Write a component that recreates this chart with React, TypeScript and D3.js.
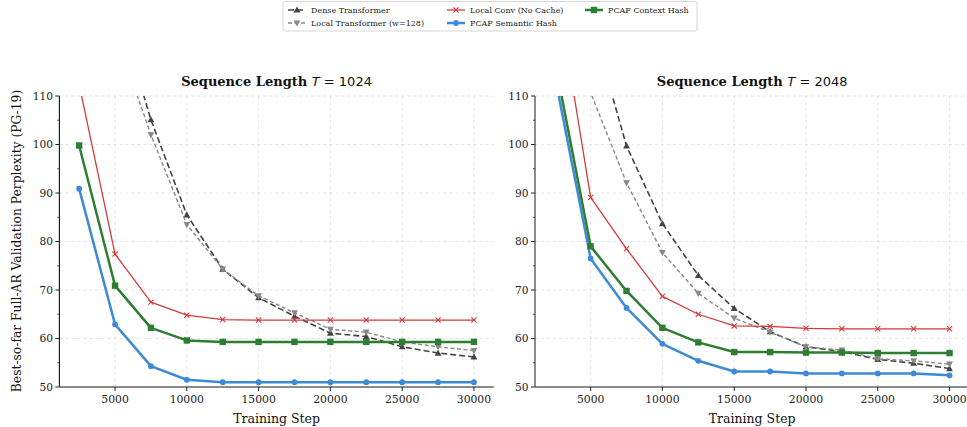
import React from "react";
import * as d3 from "d3";

const steps = [2500, 5000, 7500, 10000, 12500, 15000, 17500, 20000, 22500, 25000, 27500, 30000];

// T = 1024
const dense1024 = [170, 130, 105.1, 85.5, 74.3, 68.4, 64.6, 61.1, 60.4, 58.3, 57.0, 56.2];
const localT1024 = [150, 123.2, 102.0, 83.5, 74.3, 68.8, 65.3, 61.9, 61.3, 59.3, 58.3, 57.5];
const conv1024 = [112.4, 77.4, 67.5, 64.8, 63.9, 63.8, 63.8, 63.8, 63.8, 63.8, 63.8, 63.8];
const semantic1024 = [90.9, 62.9, 54.3, 51.5, 51.0, 51.0, 51.0, 51.0, 51.0, 51.0, 51.0, 51.0];
const context1024 = [99.8, 70.9, 62.2, 59.6, 59.3, 59.3, 59.3, 59.3, 59.3, 59.3, 59.3, 59.3];

// T = 2048
const dense2048 = [160, 125.7, 99.7, 83.7, 73.0, 66.2, 61.4, 58.3, 57.3, 55.7, 54.9, 53.8];
const localT2048 = [140, 110.7, 92.1, 77.7, 69.3, 64.2, 61.3, 58.3, 57.6, 55.8, 55.4, 54.7];
const conv2048 = [134.7, 89.1, 78.5, 68.7, 65.0, 62.6, 62.5, 62.1, 62.0, 62.0, 62.0, 62.0];
const semantic2048 = [114.2, 76.5, 66.3, 58.9, 55.4, 53.2, 53.2, 52.8, 52.8, 52.8, 52.8, 52.4];
const context2048 = [117.3, 79.0, 69.8, 62.2, 59.2, 57.2, 57.2, 57.1, 57.1, 57.0, 57.0, 57.0];

const xTicks = [5000, 10000, 15000, 20000, 25000, 30000];
const yTicks = [50, 60, 70, 80, 90, 100, 110];
const yMinor = [55, 65, 75, 85, 95, 105];

const seriesStyle = [
  { name: "Dense Transformer", color: "#444444", width: 1.6, dash: "6,3", marker: "tri-up" },
  { name: "Local Transformer (w=128)", color: "#888888", width: 1.4, dash: "4,2.5", marker: "tri-down" },
  { name: "Local Conv (No Cache)", color: "#d43a3a", width: 1.3, dash: null, marker: "x" },
  { name: "PCAF Semantic Hash", color: "#3d8ad6", width: 2.5, dash: null, marker: "circle" },
  { name: "PCAF Context Hash", color: "#2e7d32", width: 2.5, dash: null, marker: "square" },
];

const panels = [
  { label: "1024", left: 59.4, data: [dense1024, localT1024, conv1024, semantic1024, context1024] },
  { label: "2048", left: 535, data: [dense2048, localT2048, conv2048, semantic2048, context2048] },
];

const FONT = "DejaVu Serif";
const TOP = 96;
const BOTTOM = 387;
const PW = 434.3;

function Marker({ type, x, y, color }: { type: string; x: number; y: number; color: string }) {
  if (type === "circle") return <circle cx={x} cy={y} r={2.9} fill={color} />;
  if (type === "square") return <rect x={x - 3.2} y={y - 3.2} width={6.4} height={6.4} fill={color} />;
  if (type === "tri-up")
    return <path d={`M${x},${y - 3.6}L${x + 3.4},${y + 2.6}L${x - 3.4},${y + 2.6}Z`} fill={color} />;
  if (type === "tri-down")
    return <path d={`M${x},${y + 3.6}L${x + 3.4},${y - 2.6}L${x - 3.4},${y - 2.6}Z`} fill={color} />;
  return (
    <path
      d={`M${x - 2.6},${y - 2.6}L${x + 2.6},${y + 2.6}M${x - 2.6},${y + 2.6}L${x + 2.6},${y - 2.6}`}
      stroke={color}
      strokeWidth={1.1}
    />
  );
}

function Panel({ p, idx }: { p: (typeof panels)[number]; idx: number }) {
  const x = d3.scaleLinear().domain([1125, 31375]).range([p.left, p.left + PW]);
  const y = d3.scaleLinear().domain([50, 110]).range([BOTTOM, TOP]);
  const clipId = `clip${idx}`;
  return (
    <g>
      <defs>
        <clipPath id={clipId}>
          <rect x={p.left} y={TOP} width={PW} height={BOTTOM - TOP + 4} />
        </clipPath>
      </defs>
      {xTicks.map((t) => (
        <line key={"gx" + t} x1={x(t)} x2={x(t)} y1={TOP} y2={BOTTOM} stroke="#dddddd" strokeWidth={0.8} strokeDasharray="3,3" />
      ))}
      {yTicks.map((t) => (
        <line key={"gy" + t} x1={p.left} x2={p.left + PW} y1={y(t)} y2={y(t)} stroke="#dddddd" strokeWidth={0.8} strokeDasharray="3,3" />
      ))}
      <g clipPath={`url(#${clipId})`}>
        {p.data.map((vals, i) => {
          const s = seriesStyle[i];
          const line = d3
            .line<number>()
            .x((_, j) => x(steps[j]))
            .y((d) => y(d));
          return (
            <g key={s.name}>
              <path
                d={line(vals) || ""}
                fill="none"
                stroke={s.color}
                strokeWidth={s.width}
                strokeDasharray={s.dash || undefined}
                strokeLinejoin="round"
              />
              {vals.map((v, j) => (
                <Marker key={j} type={s.marker} x={x(steps[j])} y={y(v)} color={s.color} />
              ))}
            </g>
          );
        })}
      </g>
      {/* spines */}
      <line x1={p.left} x2={p.left} y1={TOP} y2={BOTTOM} stroke={idx === 0 ? "#222" : "#666"} strokeWidth={idx === 0 ? 1.2 : 1.5} />
      <line x1={p.left} x2={p.left + PW} y1={BOTTOM} y2={BOTTOM} stroke="#666" strokeWidth={1.5} />
      {xTicks.map((t) => (
        <g key={"xt" + t}>
          <line x1={x(t)} x2={x(t)} y1={BOTTOM} y2={BOTTOM + 4} stroke="#222" strokeWidth={1} />
          <text x={x(t)} y={BOTTOM + 15.5} textAnchor="middle" fontFamily={FONT} fontSize={10.8} fill="#222">
            {t}
          </text>
        </g>
      ))}
      {yTicks.map((t) => (
        <g key={"yt" + t}>
          <line x1={p.left - 4} x2={p.left} y1={y(t)} y2={y(t)} stroke="#222" strokeWidth={1} />
          <text x={p.left - 6.5} y={y(t)} dy="0.35em" textAnchor="end" fontFamily={FONT} fontSize={10.6} fill="#222">
            {t}
          </text>
        </g>
      ))}
      {yMinor.map((t) => (
        <line key={"ym" + t} x1={p.left - 2} x2={p.left} y1={y(t)} y2={y(t)} stroke="#222" strokeWidth={0.8} />
      ))}
      <text x={p.left + PW / 2} y={86} textAnchor="middle" fontFamily={FONT} fontSize={13} fill="#111">
        <tspan fontWeight="bold">Sequence Length </tspan>
        <tspan fontStyle="italic" fontFamily="DejaVu Sans">T</tspan>
        <tspan fontFamily="DejaVu Sans"> = {p.label}</tspan>
      </text>
      <text x={p.left + PW / 2} y={422.5} textAnchor="middle" fontFamily={FONT} fontSize={12.5} fill="#111">
        Training Step
      </text>
    </g>
  );
}

function Legend() {
  const cols = [288, 447, 585];
  const rows = [10, 23];
  const items = seriesStyle.map((s, i) => ({ s, cx: cols[Math.floor(i / 2)], cy: rows[i % 2] }));
  return (
    <g>
      <rect x={283} y={1.5} width={414} height={29.5} rx={2} fill="white" stroke="#cccccc" strokeWidth={0.8} />
      {items.map(({ s, cx, cy }) => (
        <g key={s.name}>
          <line x1={cx} x2={cx + 18} y1={cy} y2={cy} stroke={s.color} strokeWidth={s.width} strokeDasharray={s.dash || undefined} />
          <Marker type={s.marker} x={cx + 9} y={cy} color={s.color} />
          <text x={cx + 23} y={cy} dy="0.35em" fontFamily={FONT} fontSize={8} fill="#222">
            {s.name}
          </text>
        </g>
      ))}
    </g>
  );
}

export default function App() {
  return (
    <svg width={967} height={427} style={{ position: "absolute", left: 0, top: 0, background: "white" }}>
      <rect width={967} height={427} fill="white" />
      {panels.map((p, i) => (
        <Panel key={p.label} p={p} idx={i} />
      ))}
      <text
        transform={`translate(20.5,241) rotate(-90)`}
        textAnchor="middle"
        fontFamily={FONT}
        fontSize={12.3}
        fill="#111"
      >
        Best-so-far Full-AR Validation Perplexity (PG-19)
      </text>
      <Legend />
    </svg>
  );
}
